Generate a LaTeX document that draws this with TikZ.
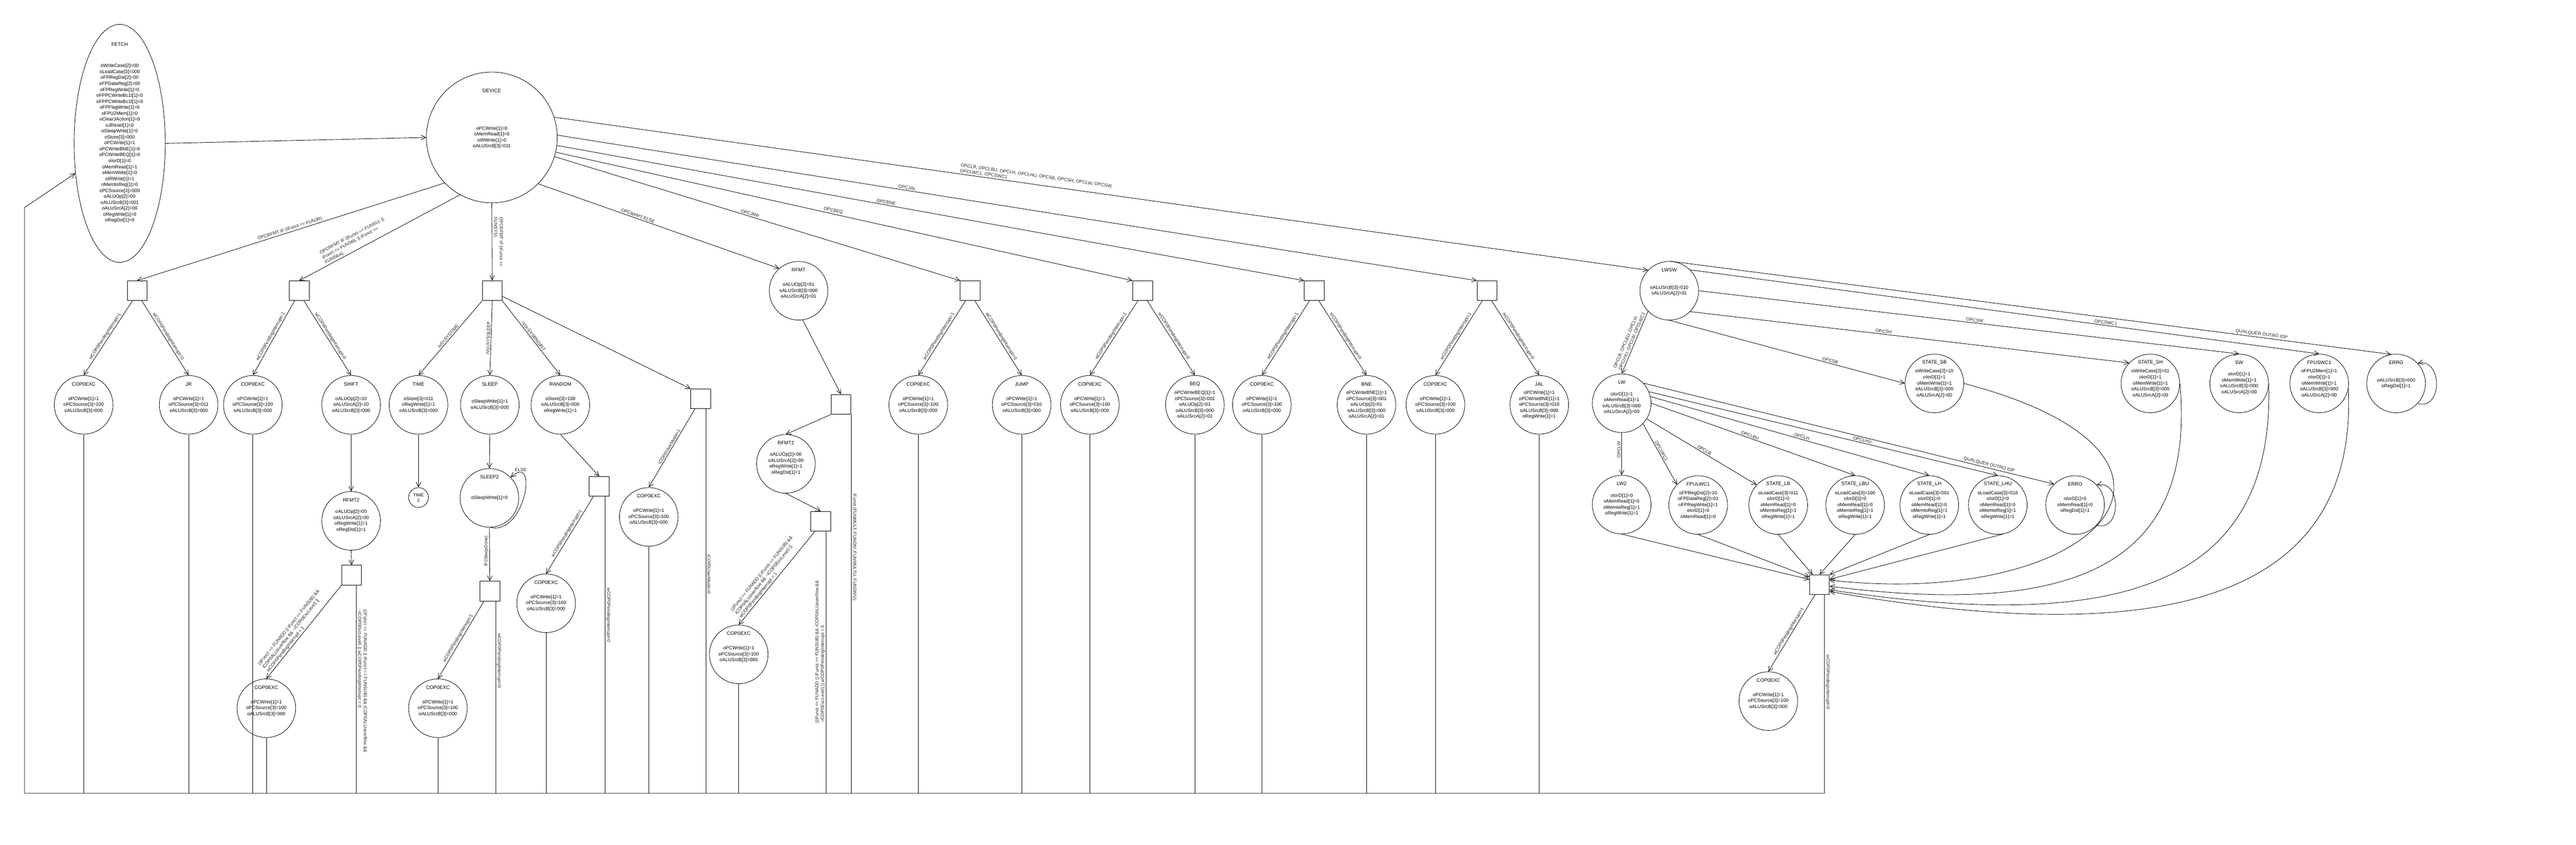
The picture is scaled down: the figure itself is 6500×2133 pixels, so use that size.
\documentclass[tikz,border=0pt]{standalone}
\usepackage{fontspec}
\setmainfont{Liberation Sans}
\usetikzlibrary{arrows.meta}
\usetikzlibrary{shapes.geometric}
\tikzset{
    st/.style={draw, circle, minimum size=148pt, inner sep=0pt, align=center, font=\fontsize{12}{15}\selectfont},
    ttl/.style={inner sep=0pt, font=\fontsize{12.5}{15}\selectfont},
    bx/.style={draw, rectangle, minimum size=50pt, inner sep=0pt},
    lab/.style={inner sep=2.5pt, align=left, text=black!85, font=\fontsize{11.5}{14}\selectfont},
    arr/.style={-{Straight Barb[length=12pt,width=12pt]}}
}
\newcommand{\fsmstate}[5] {
	\node[st] (#1) at (#2,#3) {#5};
	\node[ttl] (#1t) at ([yshift=-22pt]#1.north) {#4};
}
\newcommand{\excstate}[3] {
	\fsmstate{#1}{#2}{#3}{COP0EXC}{oPCWrite[1]=1\\oPCSource[3]=100\\oALUSrcB[3]=000}
}
\newcommand{\tofetch}[1] {
	\draw (#1) -- (#1 |- ret);
}
\begin{document}
\begin{tikzpicture}[x=1pt,y=-1pt,line width=1.1pt]
		\useasboundingbox[fill=white] (0,0) rectangle (6500,2133);
		\coordinate (ret) at (62,2003);
		\coordinate (retup) at (62,524);

		% FETCH and DEVICE
		\node[draw, ellipse, minimum width=230pt, minimum height=601pt, inner sep=0pt, align=center, font=\fontsize{12}{15}\selectfont] (fetch) at (302,362) {oWriteCase[2]=00\\oLoadCase[3]=000\\oFPRegDst[2]=00\\oFPDataReg[2]=00\\oFPRegWrite[1]=0\\oFPPCWriteBc1t[1]=0\\oFPPCWriteBc1f[1]=0\\oFPFlagWrite[1]=0\\oFPU2Mem[1]=0\\oClearJAction[1]=0\\oJReset[1]=0\\oSleepWrite[1]=0\\oStore[3]=000\\oPCWrite[1]=1\\oPCWriteBNE[1]=0\\oPCWriteBEQ[1]=0\\oIorD[1]=0\\oMemRead[1]=1\\oMemWrite[1]=0\\oIRWrite[1]=1\\oMemtoReg[1]=0\\oPCSource[3]=000\\oALUOp[2]=00\\oALUSrcB[3]=001\\oALUSrcA[2]=00\\oRegWrite[1]=0\\oRegDst[1]=0};
		\node[ttl] (fetcht) at ([yshift=-51pt]fetch.north) {FETCH};
		\node[st, minimum size=330pt] (device) at (1241,347) {oPCWrite[1]=0\\oMemRead[1]=0\\oIRWrite[1]=0\\oALUSrcB[3]=011};
		\node[ttl] (devicet) at ([yshift=-48pt]device.north) {DEVICE};

		% decision boxes
		\node[bx] (bJR) at (346,734) {};
		\node[bx] (bSH) at (755,734) {};
		\node[bx] (bSYS) at (1242,734) {};
		\node[bx] (bUM) at (1768,1007) {};
		\node[bx] (bRF) at (2122,1021) {};
		\node[bx] (bJ) at (2448,734) {};
		\node[bx] (bEQ) at (2883,734) {};
		\node[bx] (bNE) at (3316,734) {};
		\node[bx] (bAL) at (3752,734) {};
		\node[bx] (bSR) at (887,1452) {};
		\node[bx] (bRND) at (1512,1228) {};
		\node[bx] (bSL) at (1236,1492) {};
		\node[bx] (bAR) at (2071,1316) {};
		\node[bx] (bMEM) at (4591,1476) {};

		% states
		\excstate{exc1}{211}{1022}
		\fsmstate{jr}{476}{1022}{JR}{oPCWrite[1]=1\\oPCSource[3]=011\\oALUSrcB[3]=000}
		\excstate{exc2}{638}{1022}
		\fsmstate{shift}{886}{1022}{SHIFT}{oALUOp[2]=10\\oALUSrcA[2]=10\\oALUSrcB[3]=000}
		\fsmstate{rfmtA}{886}{1315}{RFMT2}{oALUOp[2]=00\\oALUSrcA[2]=00\\oRegWrite[1]=1\\oRegDst[1]=1}
		\excstate{exc3}{672}{1788}
		\fsmstate{time}{1056}{1022}{TIME}{oStore[3]=011\\oRegWrite[1]=1\\oALUSrcB[3]=000}
		\node[st, minimum size=50pt, font=\fontsize{11}{13}\selectfont] (time2) at (1056,1256) {TIME\\2};
		\fsmstate{sleep}{1236}{1022}{SLEEP}{oSleepWrite[1]=1\\oALUSrcB[3]=000}
		\fsmstate{sleep2}{1235}{1257}{SLEEP2}{oSleepWrite[1]=0}
		\excstate{exc4}{1105}{1788}
		\fsmstate{random}{1414}{1022}{RANDOM}{oStore[3]=100\\oALUSrcB[3]=000\\oRegWrite[1]=1}
		\excstate{exc5}{1378}{1523}
		\excstate{exc6}{1637}{1305}
		\fsmstate{rfmt}{2015}{734}{RFMT}{oALUOp[2]=01\\oALUSrcB[3]=000\\oALUSrcA[2]=01}
		\fsmstate{rfmtB}{1983}{1171}{RFMT2}{oALUOp[2]=00\\oALUSrcA[2]=00\\oRegWrite[1]=1\\oRegDst[1]=1}
		\excstate{exc7}{1864}{1652}
		\excstate{exc8}{2317}{1022}
		\fsmstate{jump}{2578}{1022}{JUMP}{oPCWrite[1]=1\\oPCSource[3]=010\\oALUSrcB[3]=000}
		\excstate{exc9}{2750}{1022}
		\fsmstate{beq}{3015}{1022}{BEQ}{oPCWriteBEQ[1]=1\\oPCSource[3]=001\\oALUOp[2]=01\\oALUSrcB[3]=000\\oALUSrcA[2]=01}
		\excstate{exc10}{3184}{1022}
		\fsmstate{bne}{3448}{1022}{BNE}{oPCWriteBNE[1]=1\\oPCSource[3]=001\\oALUOp[2]=01\\oALUSrcB[3]=000\\oALUSrcA[2]=01}
		\excstate{exc11}{3622}{1022}
		\fsmstate{jal}{3884}{1022}{JAL}{oPCWrite[1]=1\\oPCWriteBNE[1]=1\\oPCSource[3]=010\\oALUSrcB[3]=000\\oRegWrite[1]=1}
		\fsmstate{lwsw}{4212}{734}{LWSW}{oALUSrcB[3]=010\\oALUSrcA[2]=01}
		\fsmstate{lw}{4092}{1018}{LW}{oIorD[1]=1\\oMemRead[1]=1\\oALUSrcB[3]=000\\oALUSrcA[2]=00}
		\fsmstate{lw2}{4092}{1274}{LW2}{oIorD[1]=0\\oMemRead[1]=0\\oMemtoReg[1]=1\\oRegWrite[1]=1}
		\fsmstate{fpulwc1}{4285}{1275}{FPULWC1}{oFPRegDst[2]=10\\oFPDataReg[2]=01\\oFPRegWrite[1]=1\\oIorD[1]=0\\oMemRead[1]=0}
		\fsmstate{lb}{4487}{1275}{STATE\_LB}{oLoadCase[3]=011\\oIorD[1]=0\\oMemRead[1]=0\\oMemtoReg[1]=1\\oRegWrite[1]=1}
		\fsmstate{lbu}{4681}{1275}{STATE\_LBU}{oLoadCase[3]=100\\oIorD[1]=0\\oMemRead[1]=0\\oMemtoReg[1]=1\\oRegWrite[1]=1}
		\fsmstate{lh}{4868}{1275}{STATE\_LH}{oLoadCase[3]=001\\oIorD[1]=0\\oMemRead[1]=0\\oMemtoReg[1]=1\\oRegWrite[1]=1}
		\fsmstate{lhu}{5041}{1275}{STATE\_LHU}{oLoadCase[3]=010\\oIorD[1]=0\\oMemRead[1]=0\\oMemtoReg[1]=1\\oRegWrite[1]=1}
		\fsmstate{errL}{5236}{1275}{ERRO}{oIorD[1]=0\\oMemRead[1]=0\\oRegDst[1]=1}
		\fsmstate{sb}{4881}{968}{STATE\_SB}{oWriteCase[2]=10\\oIorD[1]=1\\oMemWrite[1]=1\\oALUSrcB[3]=000\\oALUSrcA[2]=00}
		\fsmstate{sh}{5426}{968}{STATE\_SH}{oWriteCase[2]=01\\oIorD[1]=1\\oMemWrite[1]=1\\oALUSrcB[3]=000\\oALUSrcA[2]=00}
		\fsmstate{sw}{5650}{968}{SW}{oIorD[1]=1\\oMemWrite[1]=1\\oALUSrcB[3]=000\\oALUSrcA[2]=00}
		\fsmstate{fpuswc1}{5852}{968}{FPUSWC1}{oFPU2Mem[1]=1\\oIorD[1]=1\\oMemWrite[1]=1\\oALUSrcB[3]=000\\oALUSrcA[2]=00}
		\fsmstate{errT}{6046}{968}{ERRO}{oALUSrcB[3]=000\\oRegDst[1]=1}
		\excstate{exc12}{4462}{1770}

		% FETCH -> DEVICE -> opcodes
		\draw[arr] (fetch.east) -- (device.west);
		\draw[arr] (device.-136) -- node[lab, sloped, above, pos=0.5] {OPCRFMT IF (iFunct == FUNJR)} (bJR.north);
		\draw[arr] (device.-119) -- node[lab, sloped, above, pos=0.63] {OPCRFMT IF (iFunct == FUNSLL ||\\iFunct == FUNSRL || iFunct ==\\FUNSRA)} (bSH.north);
		\draw[arr] (device.south) -- node[lab, rotate=-90, anchor=south, pos=0.5] {OPCRFMT IF (iFunct ==\\FUNSYS)} (bSYS.north);
		\draw[arr] (device.-45) -- node[lab, sloped, above, pos=0.41] {OPCRFMT ELSE} (rfmt.131);
		\draw[arr] (device.-17) -- node[lab, sloped, above, pos=0.48] {OPCJMP} (bJ.north west);
		\draw[arr] (device.-13) -- node[lab, sloped, above, pos=0.48] {OPCBEQ} (bEQ.north west);
		\draw[arr] (device.-7) -- node[lab, sloped, above, pos=0.44] {OPCBNE} (bNE.north west);
		\draw[arr] (device.2) -- node[lab, sloped, above, pos=0.38] {OPCJAL} (bAL.north west);
		\draw[arr] (device.18) -- node[lab, sloped, above, pos=0.44] {OPCLB, OPCLBU, OPCLH, OPCLHU, OPCSB, OPCSH, OPCLW, OPCSW,\\OPCLWC1, OPCSWC1} (lwsw.136);

		% interrupt checks
		\draw[arr] (bJR.-115) -- node[lab, sloped, above] {wCOP0PendingInterrupt=1} (exc1.north);
		\draw[arr] (bJR.-65) -- node[lab, sloped, above] {wCOP0PendingInterrupt=0} (jr.north);
		\draw[arr] (bSH.-115) -- node[lab, sloped, above] {wCOP0PendingInterrupt=1} (exc2.north);
		\draw[arr] (bSH.-65) -- node[lab, sloped, above] {wCOP0PendingInterrupt=0} (shift.north);
		\draw[arr] (bJ.-115) -- node[lab, sloped, above] {wCOP0PendingInterrupt=1} (exc8.north);
		\draw[arr] (bJ.-65) -- node[lab, sloped, above] {wCOP0PendingInterrupt=0} (jump.north);
		\draw[arr] (bEQ.-115) -- node[lab, sloped, above] {wCOP0PendingInterrupt=1} (exc9.north);
		\draw[arr] (bEQ.-65) -- node[lab, sloped, above] {wCOP0PendingInterrupt=0} (beq.north);
		\draw[arr] (bNE.-115) -- node[lab, sloped, above] {wCOP0PendingInterrupt=1} (exc10.north);
		\draw[arr] (bNE.-65) -- node[lab, sloped, above] {wCOP0PendingInterrupt=0} (bne.north);
		\draw[arr] (bAL.-115) -- node[lab, sloped, above] {wCOP0PendingInterrupt=1} (exc11.north);
		\draw[arr] (bAL.-65) -- node[lab, sloped, above] {wCOP0PendingInterrupt=0} (jal.north);

		% syscalls
		\draw[arr] (bSYS.south west) -- node[lab, sloped, above] {iV0=SYSTIME} (time.north);
		\draw[arr] (bSYS.south) -- node[lab, sloped, above] {iV0=SYSSLEEP} (sleep.north);
		\draw[arr] (bSYS.south east) -- node[lab, sloped, above] {iV0=SYSRNDINT} (random.north);
		\draw[arr] (bSYS.-29) -- (bUM.north west);
		\draw[arr] (bUM.-120) -- node[lab, sloped, above] {iCOP0UserMode=1} (exc6.north);
		\draw (bUM.-62) -- node[lab, rotate=-90, anchor=south, pos=0.43] {iCOP0UserMode=0} (bUM.-62 |- ret);
		\draw[arr] (time.south) -- (time2.north);
		\draw[arr] (sleep.south) -- (sleep2.north);
		\draw[arr] (sleep2.-88) .. controls +(87,21) and +(72,-65) .. node[lab, pos=0.85, above] {ELSE} (sleep2.44);
		\draw[arr] (sleep2.south) -- node[lab, rotate=90, anchor=south, pos=0.44] {IF(iSleepDone)} (bSL.north);
		\draw[arr] (bSL.-120) -- node[lab, sloped, above] {wCOP0PendingInterrupt=1} (exc4.north);
		\draw (bSL.-60) -- node[lab, rotate=-90, anchor=south, pos=0.31] {wCOP0PendingInterrupt=0} (bSL.-60 |- ret);
		\draw[arr] (random.south) -- (bRND.north);
		\draw[arr] (bRND.-120) -- node[lab, sloped, above] {wCOP0PendingInterrupt=1} (exc5.north);
		\draw (bRND.-60) -- node[lab, rotate=-90, anchor=south, pos=0.4] {wCOP0PendingInterrupt=0} (bRND.-60 |- ret);

		% shift and arithmetic
		\draw[arr] (shift.south) -- (rfmtA.north);
		\draw[arr] (rfmtA.south) -- (bSR.north);
		\draw[arr] (bSR.south west) -- node[lab, sloped, above, pos=0.55] {((iFunct == FUNADD || iFunct == FUNSUB) \&\&\\iCOP0ALUoverflow \&\& \textasciitilde iCOP0ExcLevel) ||\\wCOP0PendingInterrupt = 1} (exc3.north);
		\draw (bSR.-66) -- node[lab, rotate=-90, anchor=south, pos=0.46] {((iFunct == FUNADD || iFunct == FUNSUB) \&\& iCOP0ALUoverflow \&\&\\\textasciitilde iCOP0ExcLevel) || wCOP0PendingInterrupt = 0} (bSR.-66 |- ret);
		\draw[arr] (rfmt.-82) -- (bRF.north);
		\draw[arr] (bRF.south west) -- (rfmtB.north);
		\draw (bRF.south east) -- node[lab, rotate=-90, anchor=south, pos=0.35] {iFunct (FUNMULT, FUNDIV, FUNMULTU, FUNDIVU)} (bRF.south east |- ret);
		\draw[arr] (rfmtB.south) -- (bAR.north);
		\draw[arr] (bAR.-120) -- node[lab, sloped, above, pos=0.55] {((iFunct == FUNADD || iFunct == FUNSUB) \&\&\\iCOP0ALUoverflow \&\& \textasciitilde iCOP0ExcLevel) ||\\wCOP0PendingInterrupt = 1} (exc7.north);
		\draw (bAR.-62) -- node[lab, rotate=90, anchor=south, pos=0.46] {((iFunct == FUNADD || iFunct == FUNSUB) \&\& iCOP0ALUoverflow \&\&\\\textasciitilde iCOP0ExcLevel) || wCOP0PendingInterrupt = 0} (bAR.-62 |- ret);

		% loads and stores
		\draw[arr] (lwsw.-90) -- node[lab, sloped, above, pos=0.68] {OPCSB} (sb.west);
		\draw[arr] (lwsw.-45) -- node[lab, sloped, above, pos=0.44] {OPCSH} (sh.136);
		\draw[arr] (lwsw.0) -- node[lab, sloped, above, pos=0.51] {OPCSW} (sw.north);
		\draw[arr] (lwsw.45) -- node[lab, sloped, above, pos=0.66] {OPCSWC1} (fpuswc1.north);
		\draw[arr] (lwsw.88) -- node[lab, sloped, above, pos=0.82] {QUALQUER OUTRO IOP} (errT.100);
		\draw[arr] (lwsw.-136) -- node[lab, sloped, above] {OPCLB, OPCLBU, OPCLH,\\OPCLHU, OPCLW, OPCLWC1} (lw.north);
		\draw[arr] (lw.south) -- node[lab, rotate=90, anchor=south, pos=0.4] {OPCLW} (lw2.north);
		\draw[arr] (lw.-44) -- node[lab, sloped, above, pos=0.47] {OPCLWC1} (fpulwc1.136);
		\draw[arr] (lw.-32) -- node[lab, sloped, above, pos=0.51] {OPCLB} (lb.137);
		\draw[arr] (lw.0) -- node[lab, sloped, above, pos=0.48] {OPCLBU} (lbu.north);
		\draw[arr] (lw.13) -- node[lab, sloped, above, pos=0.54] {OPCLH} (lh.north);
		\draw[arr] (lw.23) -- node[lab, sloped, above, pos=0.61] {OPCLHU} (lhu.north);
		\draw[arr] (lw.43) -- node[lab, sloped, above, pos=0.84] {QUALQUER OUTRO IOP} (errL.135);
		\draw[arr] (errT.-43) .. controls +(63,18) and +(63,-13) .. (errT.43);
		\draw[arr] (errL.-43) .. controls +(63,18) and +(63,-13) .. (errL.43);

		% memory states -> check
		\draw[arr] (lw2.south) -- (bMEM.153);
		\draw[arr] (fpulwc1.south) -- (bMEM.143);
		\draw[arr] (lb.south) -- (bMEM.124);
		\draw[arr] (lbu.south) -- (bMEM.north);
		\draw[arr] (lh.south) -- (bMEM.north east);
		\draw[arr] (lhu.-80) -- (bMEM.28);
		\draw[arr] (sb.east) .. controls (5650,1150) and (5300,1540) .. (bMEM.24);
		\draw[arr] (sh.east) .. controls (5540,1420) and (5250,1560) .. (bMEM.-9);
		\draw[arr] (sw.east) .. controls (5740,1480) and (5350,1600) .. (bMEM.-27);
		\draw[arr] (fpuswc1.-10) .. controls (5950,1520) and (5450,1640) .. (bMEM.-34);
		\draw[arr] (bMEM.-114) -- node[lab, sloped, above] {wCOP0PendingInterrupt=1} (exc12.north);

		% back to FETCH
		\draw[arr] (bMEM.-64) -- node[lab, rotate=-90, anchor=south, pos=0.44] {wCOP0PendingInterrupt=0} (bMEM.-64 |- ret) -- (ret) -- (retup) -- (fetch.214);
		\tofetch{exc1.south}
		\tofetch{jr.south}
		\tofetch{exc2.south}
		\tofetch{exc3.south}
		\tofetch{exc4.south}
		\tofetch{exc5.south}
		\tofetch{exc6.south}
		\tofetch{exc7.south}
		\tofetch{exc8.south}
		\tofetch{jump.south}
		\tofetch{exc9.south}
		\tofetch{beq.south}
		\tofetch{exc10.south}
		\tofetch{bne.south}
		\tofetch{exc11.south}
		\tofetch{jal.south}

	\end{tikzpicture}
\end{document}
